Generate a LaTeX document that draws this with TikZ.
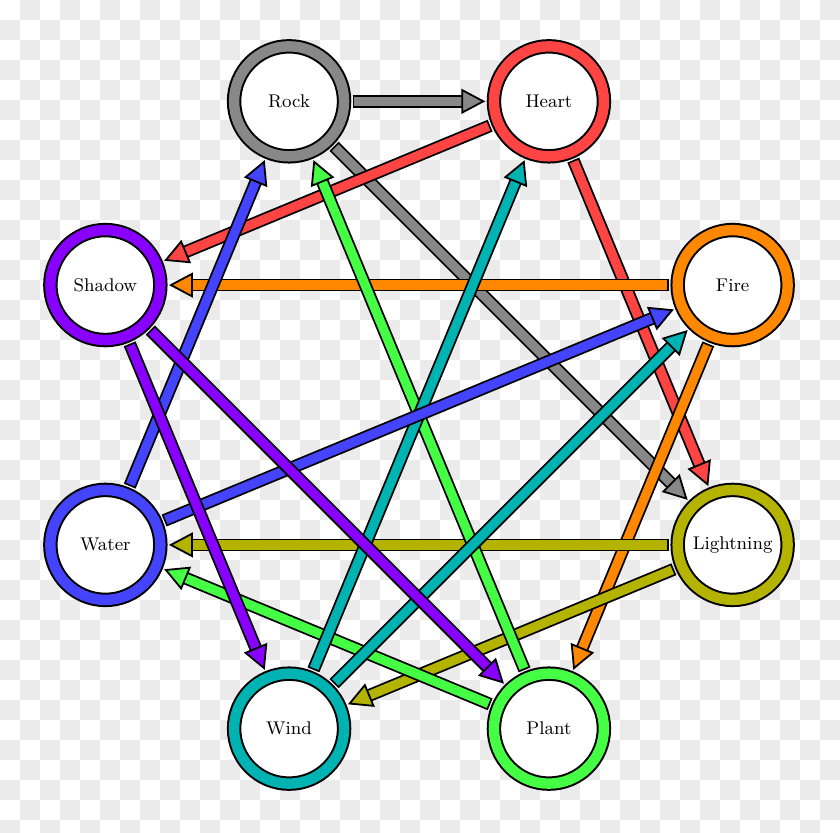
\documentclass[tikz,border=0pt]{standalone}
\usetikzlibrary{arrows.meta}

\definecolor{rockc}{HTML}{888888}
\definecolor{heartc}{HTML}{FF4444}
\definecolor{firec}{HTML}{FF8800}
\definecolor{lightc}{HTML}{B3B300}
\definecolor{plantc}{HTML}{44FF44}
\definecolor{windc}{HTML}{00B3B3}
\definecolor{waterc}{HTML}{4444FF}
\definecolor{shadowc}{HTML}{8800FF}
\definecolor{chk}{HTML}{EBEBEB}

\tikzset{
    elem/.style={circle, draw=black, line width=1pt, double=#1, double distance=5.2pt,
        fill=white, minimum size=55pt, inner sep=0pt, outer sep=4.3pt,
        font=\fontsize{9.2pt}{11pt}\selectfont},
    link/.style={draw=#1, line width=4.6pt, shorten <=0.9pt,
        -{Triangle[length=12pt, width=12.5pt, fill=#1, color=black, line width=0.9pt]},
        preaction={draw=black, line width=6.4pt, -, shorten <=0pt, shorten >=7pt}}
}

\begin{document}
\begin{tikzpicture}
    \useasboundingbox (0,0) rectangle (420pt,416.5pt);
    % background squares
    \begin{scope}
        \clip (0,0) rectangle (420pt,416.5pt);
        \fill[white] (0,0) rectangle (420pt,416.5pt);
        \foreach \i in {0,...,41} \foreach \j in {0,...,41} {
            \pgfmathparse{int(mod(\i+\j,2))}
            \ifnum\pgfmathresult=1
                \fill[chk] (\i*10pt,416.5pt-\j*10pt) rectangle ++(10pt,-10pt);
            \fi
        }
    \end{scope}

    \begin{scope}[shift={(209.5pt,209pt)}]
        \node[elem=rockc]   (rock)   at (112.5:169.75pt)  {Rock};
        \node[elem=heartc]  (heart)  at (67.5:169.75pt)   {Heart};
        \node[elem=firec]   (fire)   at (22.5:169.75pt)   {Fire};
        \node[elem=lightc]  (light)  at (-22.5:169.75pt)  {Lightning};
        \node[elem=plantc]  (plant)  at (-67.5:169.75pt)  {Plant};
        \node[elem=windc]   (wind)   at (-112.5:169.75pt) {Wind};
        \node[elem=waterc]  (water)  at (-157.5:169.75pt) {Water};
        \node[elem=shadowc] (shadow) at (157.5:169.75pt)  {Shadow};
    \end{scope}

    \draw[link=rockc] (rock) -- (heart);
    \draw[link=rockc] (rock) -- (light);
    \draw[link=heartc] (heart) -- (shadow);
    \draw[link=heartc] (heart) -- (light);
    \draw[link=firec] (fire) -- (shadow);
    \draw[link=firec] (fire) -- (plant);
    \draw[link=lightc] (light) -- (water);
    \draw[link=lightc] (light) -- (wind);
    \draw[link=plantc] (plant) -- (water);
    \draw[link=plantc] (plant) -- (rock);
    \draw[link=windc] (wind) -- (heart);
    \draw[link=windc] (wind) -- (fire);
    \draw[link=waterc] (water) -- (rock);
    \draw[link=waterc] (water) -- (fire);
    \draw[link=shadowc] (shadow) -- (wind);
    \draw[link=shadowc] (shadow) -- (plant);
\end{tikzpicture}
\end{document}
